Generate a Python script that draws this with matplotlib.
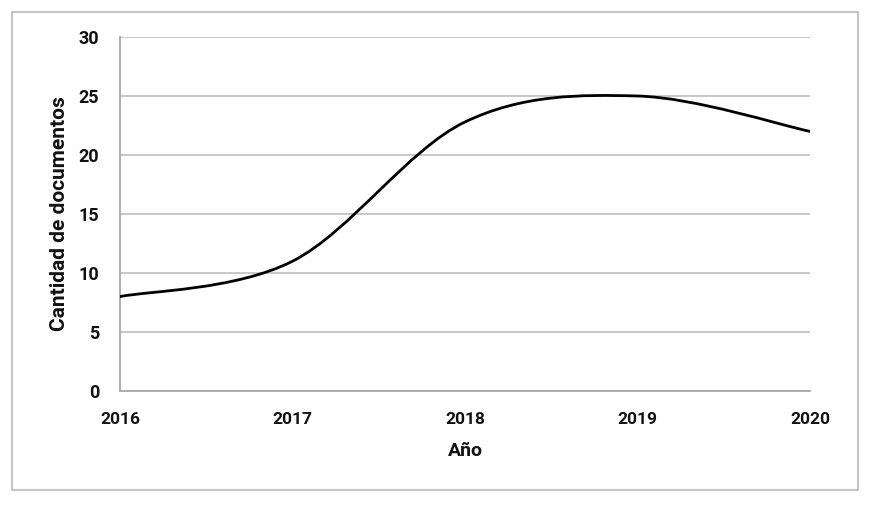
import matplotlib

matplotlib.use("Agg")
import matplotlib.pyplot as plt
from matplotlib.patches import PathPatch, Rectangle
from matplotlib.path import Path

years = [2016, 2017, 2018, 2019, 2020]
documentos = [8, 11, 22.8, 25, 22]
y_ticks = [0, 5, 10, 15, 20, 25, 30]

plt.rcParams["font.family"] = ["Roboto", "DejaVu Sans"]
NARROW = ["Liberation Sans Narrow", "Roboto", "DejaVu Sans"]


def smooth_path(xs, ys):
    # Excel-style smoothed line: cubic Bezier segments, Catmull-Rom tangents
    verts = [(xs[0], ys[0])]
    codes = [Path.MOVETO]
    n = len(xs)
    for i in range(n - 1):
        x0, y0 = xs[max(i - 1, 0)], ys[max(i - 1, 0)]
        x1, y1 = xs[i], ys[i]
        x2, y2 = xs[i + 1], ys[i + 1]
        x3, y3 = xs[min(i + 2, n - 1)], ys[min(i + 2, n - 1)]
        c1 = (x1 + (x2 - x0) / 6, y1 + (y2 - y0) / 6)
        c2 = (x2 - (x3 - x1) / 6, y2 - (y3 - y1) / 6)
        verts += [c1, c2, (x2, y2)]
        codes += [Path.CURVE4] * 3
    return Path(verts, codes)


fig = plt.figure(figsize=(8.8, 5.08), dpi=100)
fig.patches.append(Rectangle((12 / 880, 1 - 490 / 508), 846 / 880, 478 / 508,
                             transform=fig.transFigure, fill=False,
                             edgecolor="#c4c4c4", linewidth=1.5))

ax = fig.add_axes([120 / 880, 1 - 391 / 508, 690 / 880, 354 / 508])
ax.add_patch(PathPatch(smooth_path(years, documentos), fill=False,
                       edgecolor="black", linewidth=2.0, capstyle="round",
                       zorder=3))

ax.set_xlim(2016, 2020)
ax.set_ylim(0, 30)
ax.set_xticks(years)
ax.set_yticks(y_ticks)
ax.grid(axis="y", color="#c4c4c4", linewidth=1.3)
ax.set_axisbelow(True)
for side in ["top", "right"]:
    ax.spines[side].set_visible(False)
for side in ["left", "bottom"]:
    ax.spines[side].set_color("#a8a8a8")
    ax.spines[side].set_linewidth(1.3)
ax.tick_params(length=0, colors="#111111")
ax.tick_params(axis="x", pad=15, labelsize=12.5)
ax.tick_params(axis="y", pad=15, labelsize=13)
for lab in ax.get_xticklabels() + ax.get_yticklabels():
    lab.set_fontweight("bold")

ax.set_xlabel("Año", fontsize=14, fontweight="bold", labelpad=11,
              color="#111111")
ax.set_ylabel("Cantidad de documentos", fontsize=15, fontweight="bold",
              family=NARROW, labelpad=7, color="#111111")

fig.savefig("out.png", dpi=100)
